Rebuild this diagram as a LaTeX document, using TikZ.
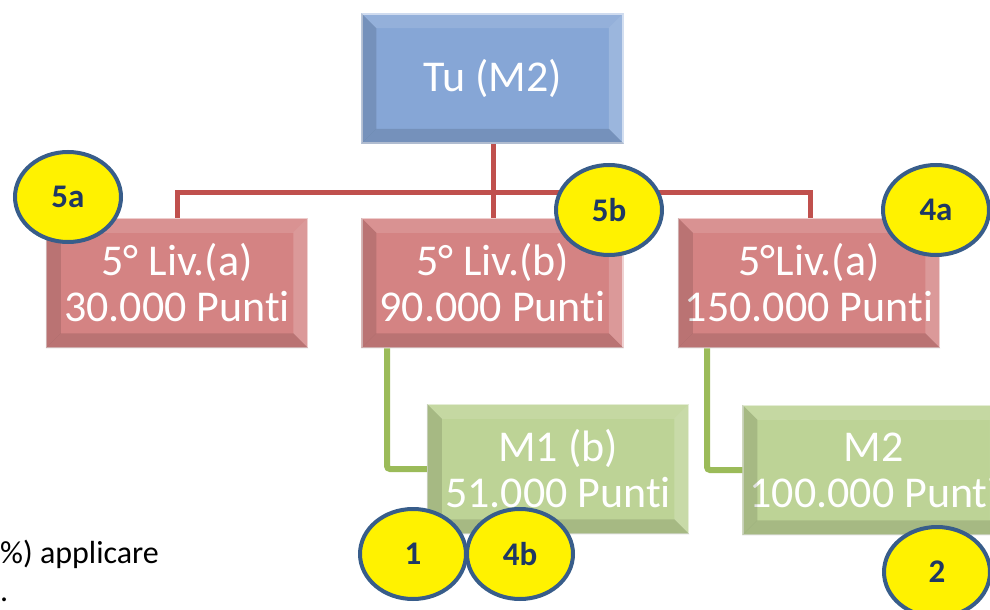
\documentclass[tikz,border=0pt]{standalone}
\usepackage{fontspec}
\setmainfont{Carlito}[Ligatures=NoCommon]
\usetikzlibrary{calc}
\usetikzlibrary{shapes}
\definecolor{bluebox}{RGB}{134,166,214}
\definecolor{redbox}{RGB}{212,131,131}
\definecolor{greenbox}{RGB}{189,211,150}
\definecolor{redline}{RGB}{192,80,77}
\definecolor{greenline}{RGB}{155,187,89}
\definecolor{ringblue}{RGB}{56,93,138}
\definecolor{labelblue}{RGB}{31,56,100}
\tikzset{
  levelbox/.style={rectangle, minimum width=261pt, minimum height=129pt, inner sep=0pt,
    text=white, align=center, font=\fontsize{44}{46}\selectfont},
  topbox/.style={levelbox, fill=bluebox, draw=bluebox!45!white, line width=1.5pt},
  redcell/.style={levelbox, fill=redbox, draw=redbox!45!white, line width=1.5pt},
  greencell/.style={levelbox, fill=greenbox, draw=greenbox!45!white, line width=1.5pt},
  redlink/.style={redline, line width=5pt},
  greenlink/.style={greenline, line width=6pt, rounded corners=3pt},
  badge/.style={ellipse, minimum width=106pt, minimum height=90pt, inner sep=0pt,
    fill=yellow, draw=ringblue, line width=4pt, text=labelblue,
    font=\fontsize{33}{35}\selectfont\bfseries}
}
% bevel edges of a box
\newcommand{\bevel}[1]{
  \fill[white,opacity=0.12] (#1.north west) -- (#1.north east) -- ($(#1.north east)+(-15,15)$) -- ($(#1.north west)+(15,15)$) -- cycle;
  \fill[white,opacity=0.18] (#1.north east) -- (#1.south east) -- ($(#1.south east)+(-15,-15)$) -- ($(#1.north east)+(-15,15)$) -- cycle;
  \fill[black,opacity=0.12] (#1.north west) -- (#1.south west) -- ($(#1.south west)+(15,-15)$) -- ($(#1.north west)+(15,15)$) -- cycle;
  \fill[black,opacity=0.12] (#1.south west) -- (#1.south east) -- ($(#1.south east)+(-15,-15)$) -- ($(#1.south west)+(15,-15)$) -- cycle;
}
\begin{document}
\begin{tikzpicture}[x=1pt, y=-1pt]
        \useasboundingbox (0,0) rectangle (990,610);
        \clip (0,0) rectangle (990,610);
        % red links
        \coordinate (fork) at (493,192);
        \coordinate (forkl) at (177,192);
        \coordinate (forkr) at (810,192);
        \draw[redlink] (493,143) -- (fork);
        \draw[redlink, line cap=rect] (forkl) -- (forkr);
        \draw[redlink] (forkl) -- (177,218);
        \draw[redlink] (fork) -- (493,218);
        \draw[redlink] (forkr) -- (810,218);
        % top
        \node[topbox] (tu) at (492.5,78.5) {Tu (M2)};
        % row 1
        \node[redcell] (liva) at (177,283) {5° Liv.(a)\\30.000 Punti};
        \node[redcell] (livb) at (492.5,283) {5° Liv.(b)\\90.000 Punti};
        \node[redcell] (livc) at (809,283) {5°Liv.(a)\\150.000 Punti};
        % row 2
        \node[greencell] (mb) at (558,469) {M1 (b)\\51.000 Punti};
        \node[greencell] (mc) at (873.5,470) {M2\\100.000 Punti};
        \foreach \n in {tu,liva,livb,livc,mb,mc} {\bevel{\n}}
        % green links
        \draw[greenlink] (livb.south west -| 387,0) |- (mb.west);
        \draw[greenlink] (livc.south west -| 707,0) |- (mc.west);
        % badges
        \node[badge] (b5a) at (68,197) {5a};
        \node[badge] (b5b) at (609,210) {5b};
        \node[badge] (b4a) at (936,210) {4a};
        \node[badge] (b1) at (413,554) {1};
        \node[badge] (b4b) at (520,554) {4b};
        \node[badge] (b2) at (937,572) {2};
        % note
        \node[anchor=base west, align=left, inner sep=0pt, font=\fontsize{32}{38}\selectfont] (note) at (0,601) {\%) applicare\\.};
    \end{tikzpicture}
\end{document}
